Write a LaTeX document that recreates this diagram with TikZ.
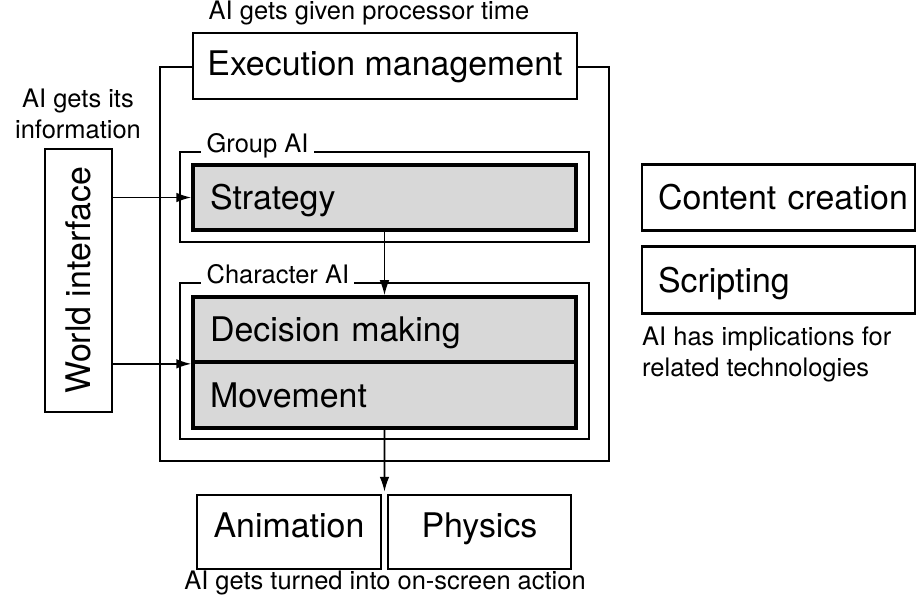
\documentclass[tikz,border=0pt]{standalone}
\usepackage{fontspec}
\setmainfont{TeX Gyre Heros}
\usetikzlibrary{arrows.meta,calc}
\definecolor{boxgray}{HTML}{D8D8D8}
\tikzset{
  big/.style={font=\fontsize{19.3}{23}\selectfont, text height=13.9pt, text depth=0pt},
  small/.style={font=\fontsize{14.5}{17.5}\selectfont},
  thinbox/.style={draw, line width=0.9pt, inner sep=0pt},
  midbox/.style={draw, line width=1.5pt, fill=white, big, inner sep=0pt},
  graybox/.style={draw, line width=2.1pt, fill=boxgray, big, inner xsep=0.34cm, inner ysep=0pt, align=left, text width=6.98cm},
  sidebox/.style={draw, line width=1.5pt, fill=white, big, inner xsep=0.32cm, inner ysep=0pt, align=left, text width=4.82cm, minimum height=1.33cm},
  grouplabel/.style={small, fill=white, inner xsep=3pt, inner ysep=1pt, anchor=base west},
  arr/.style={-{Latex[length=8.5pt,width=5.5pt]}, line width=0.9pt}
}
\begin{document}
\begin{tikzpicture}[x=0.02cm, y=-0.02cm]
\useasboundingbox (0,0) rectangle (924,602);
% outer execution area
\node[thinbox, minimum width=8.98cm, minimum height=7.88cm] (outer) at (384.5,264) {};
\node[midbox, text depth=3pt, minimum width=7.68cm, minimum height=1.32cm] (exec) at (385,66) {Execution management};
\node[small] (exectxt) at (369,13) {AI gets given processor time};
% group AI
\node[thinbox, line width=1.2pt, minimum width=8.18cm, minimum height=1.8cm] (group) at (384.5,197) {};
\node[grouplabel] (grouplbl) at (201,152) {Group AI};
\node[graybox, minimum height=1.3cm] (strategy) at (384.5,197.5) {Strategy};
% character AI
\node[thinbox, line width=1.2pt, minimum width=8.18cm, minimum height=3.12cm] (charai) at (384.5,361) {};
\node[grouplabel] (charlbl) at (201,283) {Character AI};
\node[graybox, minimum height=1.3cm] (decision) at (384.5,329.5) {Decision making};
\node[graybox, minimum height=1.32cm] (movement) at (384.5,395) {Movement};
% world interface
\node[draw, line width=1.5pt, inner sep=0pt, minimum width=1.34cm, minimum height=5.26cm] (world) at (78.5,280.5) {};
\node[big, rotate=90] (worldtxt) at (world.center) {World interface};
\node[small, align=center] (worldcap) at (78,114) {AI gets its\\information};
% output
\node[midbox, text depth=8pt, minimum width=3.68cm, minimum height=1.48cm] (anim) at (289,532) {Animation};
\node[midbox, text depth=8pt, minimum width=3.66cm, minimum height=1.48cm] (phys) at (479.5,532) {Physics};
\node[small] (outcap) at (385,583) {AI gets turned into on-screen action};
\coordinate (gap) at ($(anim.north east)!0.5!(phys.north west)$);
% related technologies
\node[sidebox] (content) at (778.5,197.5) {\mbox{Content creation}};
\node[sidebox] (script) at (778.5,280) {Scripting};
\node[small, align=left, anchor=north west] (relcap) at (636,321) {AI has implications for\\related technologies};
% connectors
\draw[arr] (world.east |- strategy.west) -- (strategy.west);
\draw[arr] (world.east |- decision.south west) -- (decision.south west);
\draw[arr] (strategy.south) -- (decision.north);
\draw[arr] (movement.south) -- ([yshift=0.04cm]gap);
\end{tikzpicture}
\end{document}
